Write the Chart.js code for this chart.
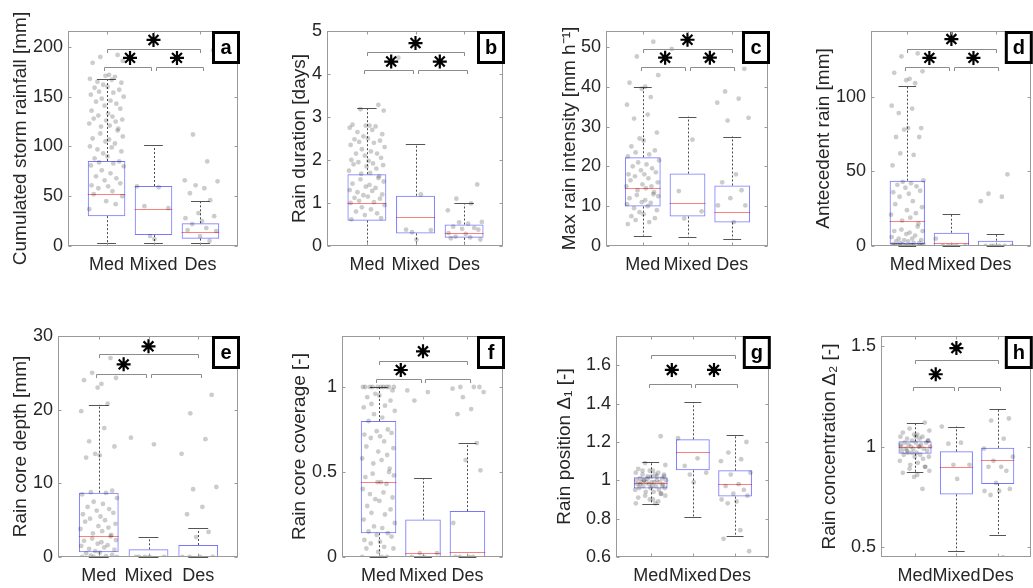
<!DOCTYPE html>
<html><head><meta charset="utf-8">
<script src="https://cdn.jsdelivr.net/npm/chart.js@4.4.1/dist/chart.umd.min.js"></script>
<style>
html,body{margin:0;padding:0;background:#fff;overflow:hidden;width:1033px;height:588px;position:relative;}
canvas{position:absolute;}
</style></head><body>
<script>
// ---------------- DATA ----------------
const categories = ['Med', 'Mixed', 'Des'];

// a
const aTitle = 'Cumulated storm rainfall [mm]';
const aTicks = [0, 50, 100, 150, 200];
const aRange = [0, 216];
const aLow = [3.4, 3.4, 3.4];
const aQ1 = [30, 11, 7.4];
const aMedian = [52, 37.6, 13.8];
const aQ3 = [85.4, 60.3, 22.8];
const aHigh = [168, 101, 45.6];
const aBrackets = [180, 198];
const aStars = [189, 189, 207];
const aMedPts = [192,190,186,184,172,171,170,168,167,165,164,162,160,159,157,155,154,152,150,148,146,145,143,141,138,136,133,131,130,128,127,126,125,123,121,120,118,116,113,110,108,107,105,103,100,99,97,95,93,90,88,85,84,83,81,80,76,73,70,68,66,63,61,60,58,55,52,50,45,42,37];
const aMixedPts = [60, 59, 40, 38, 10, 7];
const aDesPts = [196.6, 112, 85, 66, 65, 61, 58, 53, 46, 33, 30, 28, 25, 22, 18, 16, 15, 10, 5];

// b
const bTitle = 'Rain duration [days]';
const bTicks = [0, 1, 2, 3, 4, 5];
const bRange = [0, 5];
const bLow = [0.03, 0.03, 0.015];
const bQ1 = [0.59, 0.29, 0.19];
const bMedian = [1.0, 0.67, 0.3];
const bQ3 = [1.67, 1.17, 0.5];
const bHigh = [3.21, 2.38, 0.99];
const bBrackets = [4.09, 4.52];
const bStars = [4.29, 4.29, 4.72];
const bMedPts = [3.28,3.18,3.15,2.82,2.8,2.8,2.78,2.75,2.7,2.65,2.6,2.55,2.5,2.48,2.45,2.42,2.4,2.35,2.3,2.25,2.2,2.15,2.15,2.1,2.05,2.0,1.98,1.95,1.92,1.9,1.88,1.85,1.8,1.75,1.7,1.68,1.62,1.58,1.55,1.5,1.45,1.42,1.38,1.35,1.3,1.28,1.25,1.2,1.18,1.15,1.12,1.1,1.05,1.02,1.0,0.95,0.9,0.85,0.8,0.76,0.72,0.65,0.62];
const bMixedPts = [4.38, 1.2, 0.38, 0.37, 0.32, 0.15];
const bDesPts = [1.43, 1.1, 0.99, 0.83, 0.56, 0.55, 0.52, 0.45, 0.42, 0.4, 0.38, 0.3, 0.28, 0.22, 0.2, 0.18, 0.15];

// c
const cTitle = 'Max rain intensity [mm h\u207B\u00B9]';
const cTicks = [0, 10, 20, 30, 40, 50];
const cRange = [0, 54];
const cLow = [2.6, 2.3, 1.7];
const cQ1 = [9.9, 7.4, 5.9];
const cMedian = [14.5, 10.9, 8.6];
const cQ3 = [22.3, 18.2, 15.2];
const cHigh = [40, 32.5, 27.5];
const cBrackets = [45, 49.6];
const cStars = [47.3, 47.3, 51.8];
const cMedPts = [51.3,47.6,42.9,41,40,39.5,37.4,35.5,33,32,28.5,27,26.5,25,24,23.5,23,22.5,21.5,21,20.5,20,19.5,19,18.5,18,18,17.5,17,16.5,16,15.5,15,15,14.5,14,13.5,13,12.8,12.5,12,11.5,11,10.8,10.5,10,9.5,9,8.5,8,7.5,7,6.5,6,5.5];
const cMixedPts = [49.5, 26.7, 13.8, 8.7, 6.9];
const cDesPts = [44.5, 38.8, 37, 36, 32.2, 31.5, 18, 16, 14, 12, 10.2, 10.2, 6];

// d
const dTitle = 'Antecedent rain [mm]';
const dTicks = [0, 50, 100];
const dRange = [0, 144];
const dLow = [0, 0, 0];
const dQ1 = [1.3, 0, 0];
const dMedian = [16.5, 2.2, 0.4];
const dQ3 = [43.75, 8.9, 3.6];
const dHigh = [107.4, 21.7, 8.3];
const dBrackets = [120, 132];
const dStars = [126, 126, 138.6];
const dMedPts = [129,127,117,116,112,111,109,94,92,89,79,78,79,73,73,62,61,54,44,43,42,41,40,39,37,36,35,33,30,28,26,24,22,21,19,17,15,13,11,10,10,9,8,7,6,5,5,4,4,3,3,2,2,2,1,1,1,0.5,0.5,0,0,0,0,0,0,0,0,0,0];
const dMixedPts = [5, 0, 0, 0, 0, 0];
const dDesPts = [48, 35, 33, 30, 0, 0, 0, 0, 0, 0];

// e
const eTitle = 'Rain core depth [mm]';
const eTicks = [0, 10, 20, 30];
const eRange = [0, 30];
const eLow = [0, 0, 0];
const eQ1 = [0.63, 0, 0];
const eMedian = [2.9, 0.09, 0.09];
const eQ3 = [8.73, 1.04, 1.63];
const eHigh = [20.7, 2.67, 3.94];
const eBrackets = [24.9, 27.5];
const eStars = [26.15, null, 28.6];
const eMedPts = [27,25,24.3,24,23.5,23,20.8,19.8,17.5,15.7,15,14,13.8,13.5,9,8.8,8.7,8.5,8,7.5,7.2,6.8,6.5,6.3,6,5.8,5.5,5.2,5,4.8,4.5,4.2,4,3.8,3.5,3.2,3,2.8,2.5,2.3,2.2,2,1.8,1.6,1.5,1.3,1.1,1,0.8,0.6,0.5,0.3,0.2,0.1,0,0,0];
const eMixedPts = [16.2, 15.3, 0, 0, 0, 0, 0];
const eDesPts = [22, 19.5, 16, 14, 9.5, 9.2, 6.8, 5.8, 3.4, 2.7, 0, 0, 0, 0];

// f
const fTitle = 'Rain core coverage [-]';
const fTicks = [0, 0.5, 1];
const fRange = [0, 1.3];
const fLow = [0, 0, 0];
const fQ1 = [0.14, 0, 0];
const fMedian = [0.44, 0.022, 0.028];
const fQ3 = [0.8, 0.22, 0.27];
const fHigh = [1.0, 0.464, 0.67];
const fBrackets = [1.049, 1.155];
const fStars = [1.10, null, 1.21];
const fMedPts = [1,1,1,1,1,1,1,1,1,1,0.98,0.96,0.95,0.94,0.92,0.9,0.89,0.88,0.86,0.84,0.82,0.8,0.75,0.74,0.73,0.72,0.71,0.7,0.68,0.65,0.64,0.62,0.6,0.58,0.57,0.55,0.52,0.5,0.49,0.48,0.47,0.44,0.44,0.43,0.4,0.38,0.37,0.35,0.34,0.33,0.3,0.28,0.26,0.25,0.22,0.2,0.18,0.17,0.15,0.14,0.13,0.12,0.1,0.09,0.08,0.06,0.05,0.05,0.03,0,0,0];
const fMixedPts = [0.98, 0.97, 0.92, 0.023, 0.023, 0, 0];
const fDesPts = [1, 1, 1, 0.99, 0.97, 0.94, 0.87, 0.84, 0.67, 0.57, 0.51, 0.2, 0, 0, 0, 0];

// g
const gTitle = 'Rain position \u0394\u2081 [-]';
const gTicks = [0.6, 0.8, 1, 1.2, 1.4, 1.6];
const gRange = [0.6, 1.753];
const gLow = [0.875, 0.809, 0.71];
const gQ1 = [0.958, 1.052, 0.915];
const gMedian = [0.988, 1.146, 0.981];
const gQ3 = [1.016, 1.214, 1.052];
const gHigh = [1.097, 1.407, 1.235];
const gBrackets = [1.50, 1.652];
const gStars = [1.576, 1.576, null];
const gMedPts = [1.23,1.09,1.08,1.06,1.05,1.05,1.04,1.04,1.03,1.03,1.02,1.02,1.02,1.01,1.01,1.0,1.0,1.0,1.0,0.99,0.99,0.99,0.99,0.98,0.98,0.98,0.97,0.97,0.97,0.96,0.96,0.96,0.95,0.95,0.94,0.94,0.93,0.93,0.92,0.92,0.91,0.9,0.9,0.89,0.88,0.88,1.05,1.03,1.01,0.99,0.98,0.97,1.0,1.02];
const gMixedPts = [1.22, 1.115, 1.075, 1.04, 1.03, 0.99];
const gDesPts = [1.2, 1.145, 1.11, 1.1, 1.04, 1.03, 0.98, 0.97, 0.95, 0.93, 0.92, 0.9, 0.89, 0.88, 0.74, 0.695, 0.63];

// h
const hTitle = 'Rain concentration \u0394\u2082 [-]';
const hTicks = [0.5, 1, 1.5];
const hRange = [0.452, 1.55];
const hLow = [0.873, 0.48, 0.561];
const hQ1 = [0.965, 0.763, 0.815];
const hMedian = [0.998, 0.897, 0.932];
const hQ3 = [1.027, 0.977, 0.995];
const hHigh = [1.12, 1.10, 1.185];
const hBrackets = [1.298, 1.429];
const hStars = [1.36, null, 1.49];
const hMedPts = [1.12,1.09,1.08,1.07,1.06,1.06,1.05,1.05,1.04,1.04,1.03,1.03,1.02,1.02,1.02,1.01,1.01,1.0,1.0,1.0,1.0,0.99,0.99,0.99,0.98,0.98,0.97,0.97,0.96,0.96,0.95,0.95,0.94,0.93,0.92,0.91,0.9,0.9,0.89,0.88,0.87,0.86,0.85,0.79,1.01,1.0,0.98,1.03,0.97,1.05];
const hMixedPts = [1.1, 1.02, 1.015, 0.91, 0.91, 0.84];
const hDesPts = [1.14, 1.13, 1.04, 0.99, 0.95, 0.93, 0.9, 0.9, 0.88, 0.82, 0.79, 0.78, 0.78, 0.76, 0.45];

// ---------------- LAYOUT / STYLE ----------------
const JIT = [0.62,-0.35,0.91,-0.78,0.14,-0.06,0.47,-0.93,0.29,-0.51,0.83,-0.19,0.05,-0.67,0.71,-0.42,0.38,-0.88,0.96,-0.27,0.22,-0.59,0.55,-0.11,0.77,-0.84,0.09,-0.46,0.33,-0.72,0.88,-0.02,0.51,-0.97,0.18,-0.31,0.66];
const STAR_X = [1.5, 2.5, 2.0];
const FONT = "'Liberation Sans', Arial, Helvetica, sans-serif";
Chart.defaults.font.family = FONT;

const panels = [
  {id:'a', title:aTitle, ticks:aTicks, range:aRange, low:aLow, q1:aQ1, med:aMedian, q3:aQ3, high:aHigh, br:aBrackets, stars:aStars, pts:[aMedPts,aMixedPts,aDesPts]},
  {id:'b', title:bTitle, ticks:bTicks, range:bRange, low:bLow, q1:bQ1, med:bMedian, q3:bQ3, high:bHigh, br:bBrackets, stars:bStars, pts:[bMedPts,bMixedPts,bDesPts]},
  {id:'c', title:cTitle, ticks:cTicks, range:cRange, low:cLow, q1:cQ1, med:cMedian, q3:cQ3, high:cHigh, br:cBrackets, stars:cStars, pts:[cMedPts,cMixedPts,cDesPts]},
  {id:'d', title:dTitle, ticks:dTicks, range:dRange, low:dLow, q1:dQ1, med:dMedian, q3:dQ3, high:dHigh, br:dBrackets, stars:dStars, pts:[dMedPts,dMixedPts,dDesPts]},
  {id:'e', title:eTitle, ticks:eTicks, range:eRange, low:eLow, q1:eQ1, med:eMedian, q3:eQ3, high:eHigh, br:eBrackets, stars:eStars, pts:[eMedPts,eMixedPts,eDesPts]},
  {id:'f', title:fTitle, ticks:fTicks, range:fRange, low:fLow, q1:fQ1, med:fMedian, q3:fQ3, high:fHigh, br:fBrackets, stars:fStars, pts:[fMedPts,fMixedPts,fDesPts]},
  {id:'g', title:gTitle, ticks:gTicks, range:gRange, low:gLow, q1:gQ1, med:gMedian, q3:gQ3, high:gHigh, br:gBrackets, stars:gStars, pts:[gMedPts,gMixedPts,gDesPts]},
  {id:'h', title:hTitle, ticks:hTicks, range:hRange, low:hLow, q1:hQ1, med:hMedian, q3:hQ3, high:hHigh, br:hBrackets, stars:hStars, pts:[hMedPts,hMixedPts,hDesPts]}
];

const layouts = [
  {left:0,   top:0,   w:258, h:290, L:69,  R:238,  T:31,  B:246, tx:20.5},
  {left:258, top:0,   w:260, h:290, L:328, R:503,  T:31,  B:246, tx:299.5},
  {left:518, top:0,   w:260, h:290, L:607, R:768,  T:31,  B:246, tx:570},
  {left:778, top:0,   w:262, h:290, L:872, R:1032, T:31,  B:246, tx:823.5},
  {left:0,   top:295, w:258, h:293, L:59,  R:238,  T:336, B:557, tx:21},
  {left:258, top:295, w:260, h:293, L:343, R:503,  T:336, B:557, tx:299.5},
  {left:518, top:295, w:260, h:293, L:617, R:769,  T:336, B:557, tx:564.5},
  {left:778, top:295, w:262, h:293, L:882, R:1034, T:336, B:557, tx:830}
];

const crisp = v => Math.round(v) + 0.5;

const decoPlugin = {
  id: 'deco',
  beforeDatasetsDraw(chart) {
    const p = chart.options.plugins.deco.panel;
    const {ctx, scales: {x, y}} = chart;
    ctx.save();
    ctx.lineWidth = 1;
    for (let g = 0; g < 3; g++) {
      const c = g + 1;
      const X = crisp(x.getPixelForValue(c));
      ctx.strokeStyle = '#4a4a4a';
      ctx.setLineDash([2, 2]);
      ctx.beginPath();
      ctx.moveTo(X, y.getPixelForValue(p.q3[g])); ctx.lineTo(X, y.getPixelForValue(p.high[g]));
      ctx.moveTo(X, y.getPixelForValue(p.q1[g])); ctx.lineTo(X, y.getPixelForValue(p.low[g]));
      ctx.stroke();
      ctx.setLineDash([]);
      ctx.strokeStyle = '#555';
      ctx.beginPath();
      const x0 = x.getPixelForValue(c - 0.2), x1 = x.getPixelForValue(c + 0.2);
      const yh = crisp(y.getPixelForValue(p.high[g])), yl = crisp(y.getPixelForValue(p.low[g]));
      ctx.moveTo(x0, yh); ctx.lineTo(x1, yh);
      ctx.moveTo(x0, yl); ctx.lineTo(x1, yl);
      ctx.stroke();
      ctx.strokeStyle = 'rgba(255,40,40,0.6)';
      ctx.beginPath();
      const ym = crisp(y.getPixelForValue(p.med[g]));
      ctx.moveTo(x.getPixelForValue(c - 0.4), ym); ctx.lineTo(x.getPixelForValue(c + 0.4), ym);
      ctx.stroke();
    }
    ctx.restore();
  },
  afterDraw(chart) {
    const p = chart.options.plugins.deco.panel;
    const {ctx, chartArea: ca, scales: {x, y}} = chart;
    ctx.save();
    ctx.strokeStyle = '#8c8c8c';
    ctx.lineWidth = 1;
    const drop = 3.5;
    const bracket = (xa, xb, v) => {
      const Y = crisp(y.getPixelForValue(v));
      const A = crisp(x.getPixelForValue(xa)), B = crisp(x.getPixelForValue(xb));
      ctx.beginPath();
      ctx.moveTo(A, Y + drop); ctx.lineTo(A, Y); ctx.lineTo(B, Y); ctx.lineTo(B, Y + drop);
      ctx.stroke();
    };
    bracket(0.95, 1.95, p.br[0]);
    bracket(2.05, 3.05, p.br[0]);
    bracket(1.0, 3.0, p.br[1]);
    ctx.strokeStyle = '#9a9a9a';
    const L = crisp(ca.left) - 1, R = crisp(ca.right) - 1, T = crisp(ca.top), Bt = crisp(ca.bottom) - 1;
    ctx.strokeRect(L, T, R - L, Bt - T);
    const tl = 3;
    ctx.beginPath();
    p.ticks.forEach(v => {
      const Y = crisp(y.getPixelForValue(v));
      ctx.moveTo(L, Y); ctx.lineTo(L + tl, Y);
      ctx.moveTo(R, Y); ctx.lineTo(R - tl, Y);
    });
    [1, 2, 3].forEach(v => {
      const X = crisp(x.getPixelForValue(v));
      ctx.moveTo(X, Bt); ctx.lineTo(X, Bt - tl);
      ctx.moveTo(X, T); ctx.lineTo(X, T + tl);
    });
    ctx.stroke();
    const bx0 = ca.right - 26, by0 = ca.top, bw = 28, bh = 33;
    ctx.fillStyle = '#fff';
    ctx.fillRect(bx0, by0, bw, bh);
    ctx.strokeStyle = '#000';
    ctx.lineWidth = 3;
    ctx.strokeRect(bx0 + 1.5, by0 + 1.5, bw - 3, bh - 3);
    ctx.fillStyle = '#000';
    ctx.font = 'bold 20px ' + FONT;
    ctx.textAlign = 'center';
    ctx.textBaseline = 'middle';
    ctx.fillText(p.id, bx0 + bw / 2, by0 + bh / 2 + 1);
    ctx.restore();
  }
};

panels.forEach((p, k) => {
  const lay = layouts[k];
  const cv = document.createElement('canvas');
  cv.width = lay.w; cv.height = lay.h;
  cv.style.left = lay.left + 'px'; cv.style.top = lay.top + 'px';
  cv.style.width = lay.w + 'px'; cv.style.height = lay.h + 'px';
  document.body.appendChild(cv);

  const yw = lay.L - lay.left;
  const xh = lay.top + lay.h - lay.B;
  const padTop = lay.T - lay.top;
  const padRight = lay.left + lay.w - lay.R;
  const titlePad = lay.tx - lay.left - 9.5;

  const boxData = [0, 1, 2].map(g => ({x: g + 1, y: [p.q1[g], p.q3[g]]}));
  const ptData = [];
  p.pts.forEach((arr, g) => {
    arr.forEach((v, i) => {
      ptData.push({x: g + 1 + JIT[(i + g * 7) % JIT.length] * 0.38, y: v});
    });
  });
  const starData = [];
  p.stars.forEach((v, i) => { if (v !== null) starData.push({x: STAR_X[i], y: v}); });

  new Chart(cv, {
    type: 'bar',
    data: {
      datasets: [
        {type: 'scatter', label: 'significance', data: starData, order: 0,
         pointStyle: 'star', pointRadius: 7, borderColor: '#000', borderWidth: 2.2, backgroundColor: '#000', clip: false},
        {type: 'scatter', label: 'events', data: ptData, order: 1,
         pointRadius: 2.4, borderWidth: 0, backgroundColor: 'rgba(0,0,0,0.2)'},
        {type: 'bar', label: 'IQR', data: boxData, order: 2,
         backgroundColor: 'rgba(0,0,0,0)', borderColor: 'rgba(30,30,255,0.6)', borderWidth: 1,
         borderSkipped: false, barPercentage: 0.8, categoryPercentage: 1, inflateAmount: 0}
      ]
    },
    options: {
      responsive: false, animation: false, events: [], devicePixelRatio: 1,
      layout: {padding: {top: padTop, right: padRight, left: 0, bottom: 0}},
      plugins: {legend: {display: false}, tooltip: {enabled: false}, deco: {panel: p}},
      scales: {
        x: {
          type: 'linear', min: 0.2, max: 3.8, offset: false,
          grid: {display: false, drawTicks: false}, border: {display: false},
          afterBuildTicks: s => { s.ticks = [1, 2, 3].map(v => ({value: v})); },
          afterFit: s => { s.height = xh; },
          ticks: {autoSkip: false, maxRotation: 0, minRotation: 0, padding: 8, color: '#262626',
                  font: {size: 18}, callback: v => categories[v - 1]}
        },
        y: {
          type: 'linear', min: p.range[0], max: p.range[1],
          grid: {display: false, drawTicks: false}, border: {display: false},
          afterBuildTicks: s => { s.ticks = p.ticks.map(v => ({value: v})); },
          afterFit: s => { s.width = yw; },
          ticks: {autoSkip: false, padding: 6, color: '#262626', font: {size: 18}, callback: v => String(v)},
          title: {display: true, text: p.title, color: '#262626',
                  font: {size: 19, lineHeight: 1}, padding: {top: titlePad, bottom: 0}}
        }
      }
    },
    plugins: [decoPlugin]
  });
});
</script>
</body></html>
